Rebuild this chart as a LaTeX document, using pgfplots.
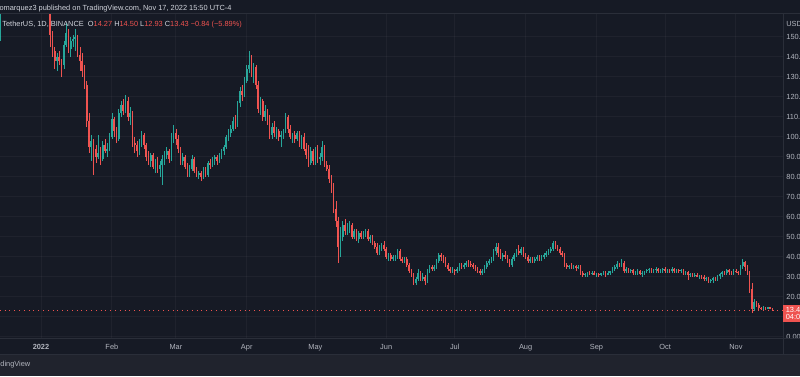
\documentclass[border=0pt]{standalone}
\usepackage{pgfplots}
\pgfplotsset{compat=1.18}
\usepackage{pgfplotstable}
\usepackage{fontspec}
\setmainfont{Liberation Sans}
\definecolor{bg}{HTML}{161A25}
\definecolor{strip}{HTML}{20232D}
\definecolor{sep}{HTML}{2A2E39}
\definecolor{txt}{HTML}{B2B5BE}
\definecolor{hdr}{HTML}{D1D4DC}
\definecolor{upc}{HTML}{26A69A}
\definecolor{dnc}{HTML}{EF5350}
\pgfplotstableread[row sep=\\]{
d o h l c\\
-18 150 163 148 162\\ -17 162 180 162 177\\ -16 177 181 168 172\\ -15 172 180 168 177\\ -14 177 184 172 181\\
-13 181 183 172 178\\ -12 178 182 172 179\\ -11 179 188 176 186\\ -10 186 189 180 183\\ -9 183 194 181 192\\
-8 192 196 186 191\\ -7 191 197 188 193\\ -6 193 199 190 196\\ -5 196 204 192 195\\ -4 195 197 176 179\\
-3 179 183 168 171\\ -2 171 180 168 176\\ -1 176 179 169 170\\
0 170 179 169 178\\ 1 178 180 172 176\\ 2 176 177 166 170\\ 3 170 172 163 167\\ 4 167 168 145 151\\
5 151 153 140 143\\ 6 143 145 134 138\\ 7 138 142 133 140\\ 8 140 143 136 138\\ 9 138 139 130 136\\
10 136 148 134 146\\ 11 146 157 145 152\\ 12 152 154 142 144\\ 13 144 150 140 148\\ 14 148 151 145 149\\
15 149 154 143 150\\ 16 150 151 140 141\\ 17 141 145 133 138\\ 18 138 142 130 133\\ 19 133 136 124 126\\
20 126 128 105 108\\ 21 108 112 92 95\\ 22 95 101 88 98\\ 23 98 99 81 94\\ 24 94 96 87 90\\
25 90 101 89 92\\ 26 92 95 86 89\\ 27 89 98 88 96\\ 28 96 99 92 93\\ 29 93 97 90 94\\
30 94 102 93 100\\ 31 100 112 99 109\\ 32 109 110 100 103\\ 33 103 105 97 99\\ 34 99 114 98 112\\
35 112 118 110 116\\ 36 116 119 111 113\\ 37 113 121 112 118\\ 38 118 120 108 110\\ 39 110 115 106 112\\
40 112 113 95 97\\ 41 97 100 92 96\\ 42 96 98 90 93\\ 43 93 99 91 97\\ 44 97 103 95 101\\
45 101 102 94 96\\ 46 96 97 88 90\\ 47 90 93 86 88\\ 48 88 92 85 91\\ 49 91 92 84 85\\
50 85 89 82 88\\ 51 88 90 82 84\\ 52 84 88 80 86\\ 53 86 91 76 89\\ 54 89 93 86 91\\
55 91 95 89 93\\ 56 93 94 87 89\\ 57 89 102 88 100\\ 58 100 106 97 102\\ 59 102 104 96 99\\
60 99 101 92 94\\ 61 94 95 86 88\\ 62 88 92 86 90\\ 63 90 91 84 85\\ 64 85 87 80 82\\
65 82 86 80 84\\ 66 84 91 83 89\\ 67 89 90 82 83\\ 68 83 85 80 81\\ 69 81 83 79 82\\
70 82 83 78 80\\ 71 80 85 79 84\\ 72 84 85 80 81\\ 73 81 88 80 87\\ 74 87 89 84 86\\
75 86 90 85 89\\ 76 89 91 86 90\\ 77 90 91 86 88\\ 78 88 92 87 91\\ 79 91 94 89 93\\
80 93 96 91 95\\ 81 95 101 94 100\\ 82 100 104 98 102\\ 83 102 106 100 104\\ 84 104 110 103 108\\
85 108 111 104 106\\ 86 106 118 105 117\\ 87 117 125 115 123\\ 88 123 126 118 121\\ 89 121 130 120 128\\
90 128 136 127 134\\ 91 134 143 132 136\\ 92 136 141 130 132\\ 93 132 137 127 135\\ 94 135 136 124 126\\
95 126 128 112 114\\ 96 114 120 111 118\\ 97 118 119 108 110\\ 98 110 116 108 113\\ 99 113 114 106 108\\
100 108 111 99 101\\ 101 101 107 99 105\\ 102 105 108 100 102\\ 103 102 105 99 103\\ 104 103 104 98 100\\
105 100 103 95 101\\ 106 101 104 99 103\\ 107 103 112 102 110\\ 108 110 111 102 104\\ 109 104 106 99 100\\
110 100 102 97 101\\ 111 101 103 97 99\\ 112 99 103 98 102\\ 113 102 103 95 96\\ 114 96 101 94 100\\
115 100 102 93 94\\ 116 94 97 89 91\\ 117 91 96 85 87\\ 118 87 95 86 93\\ 119 93 94 86 88\\
120 88 95 86 94\\ 121 94 96 87 89\\ 122 89 92 86 90\\ 123 90 98 88 95\\ 124 95 96 85 86\\
125 86 88 83 84\\ 126 84 86 77 79\\ 127 79 81 72 75\\ 128 75 77 62 64\\ 129 64 68 55 58\\
130 58 60 37 45\\ 131 45 55 40 50\\ 132 50 58 48 56\\ 133 56 59 51 53\\ 134 53 57 51 55\\
135 55 58 52 56\\ 136 56 57 49 50\\ 137 50 54 49 53\\ 138 53 54 48 49\\ 139 49 53 47 52\\
140 52 53 49 50\\ 141 50 53 49 52\\ 142 52 54 50 53\\ 143 53 54 48 49\\ 144 49 51 47 50\\
145 50 51 46 47\\ 146 47 48 44 45\\ 147 45 47 41 42\\ 148 42 46 41 45\\ 149 45 47 43 46\\
150 46 48 43 44\\ 151 44 45 39 40\\ 152 40 42 38 41\\ 153 41 42 38 39\\ 154 39 41 38 40\\
155 40 41 38 40\\ 156 40 44 39 43\\ 157 43 44 38 39\\ 158 39 40 37 38\\ 159 38 40 37 39\\
160 39 40 35 36\\ 161 36 37 32 33\\ 162 33 34 30 31\\ 163 31 32 26 27\\ 164 27 30 26 29\\
165 29 34 28 32\\ 166 32 33 28 29\\ 167 29 32 28 30\\ 168 30 31 26 28\\ 169 28 34 27 33\\
170 33 36 32 35\\ 171 35 36 33 34\\ 172 34 36 33 35\\ 173 35 39 34 38\\ 174 38 42 37 41\\
175 41 42 38 40\\ 176 40 41 37 38\\ 177 38 40 35 36\\ 178 36 37 33 34\\ 179 34 35 32 33\\
180 33 35 32 33.5\\ 181 33.5 34 31 33\\ 182 33 35 32 34\\ 183 34 37 33 36\\ 184 36 37 34 35\\
185 35 37 34 36\\ 186 36 38 35 37\\ 187 37 38.5 35 36.5\\ 188 36.5 38 35 36\\ 189 36 37 34 35\\
190 35 36 33 34\\ 191 34 35 32 33\\ 192 33 34 31 32\\ 193 32 34 31 33\\ 194 33 36 32 35\\
195 35 38 34 37\\ 196 37 39 36 38\\ 197 38 40 37 39\\ 198 39 44 38 43\\ 199 43 47 41 45\\
200 45 47 40 42\\ 201 42 44 39 40\\ 202 40 42 38 41\\ 203 41 43 39 40\\ 204 40 41 37 38\\
205 38 39 35 36\\ 206 36 40 35 39\\ 207 39 42 38 41\\ 208 41 44 40 43\\ 209 43 46 41 42\\
210 42 45 41 44\\ 211 44 45 40 41\\ 212 41 42 39 40\\ 213 40 41 37 38\\ 214 38 40 37 39\\
215 39 40 37 38\\ 216 38 40 37 39\\ 217 39 41 38 40\\ 218 40 41 38 39\\ 219 39 41 38 40\\
220 40 42 39 41\\ 221 41 43 40 42\\ 222 42 44 41 43\\ 223 43 45 42 44\\ 224 44 48 43 47\\
225 47 48 44 45\\ 226 45 46 43 44\\ 227 44 45 41 42\\ 228 42 43 40 41\\ 229 41 42 35 36\\
230 36 37 34 35\\ 231 35 36 34 35.5\\ 232 35.5 37 34 35\\ 233 35 36 34 35.5\\ 234 35.5 36 33 34.5\\
235 34.5 36 34 35\\ 236 35 36 31 32\\ 237 32 33 30 31\\ 238 31 32 30 31.5\\ 239 31.5 32.5 30 32\\
240 32 33 31 31.5\\ 241 31.5 33 31 32\\ 242 32 33 31 31\\ 243 31 32 30 31.5\\ 244 31.5 32 30 31\\
245 31 32 30.5 31.8\\ 246 31.8 33 31 32\\ 247 32 33 30 31\\ 248 31 33 31 32\\ 249 32 33 31 33\\
250 33 35 32 34\\ 251 34 36 33 35\\ 252 35 38 34 36.5\\ 253 36.5 37 35 36\\ 254 36 39 35 37\\
255 37 38 32 33\\ 256 33 35 32 34\\ 257 34 34.5 32 33\\ 258 33 34 32 33.5\\ 259 33.5 34 31 32\\
260 32 33 31 32.5\\ 261 32.5 34 31 33\\ 262 33 33.5 31 31.5\\ 263 31.5 33 30 32\\ 264 32 33 31 33\\
265 33 34 32 33.5\\ 266 33.5 34.5 32 34\\ 267 34 34.5 32 33\\ 268 33 34 32 33.5\\ 269 33.5 35 32 34\\
270 34 34.5 32 33\\ 271 33 34 32 33.5\\ 272 33.5 34.5 32 34\\ 273 34 35 32 33\\ 274 33 34 32 33.5\\
275 33.5 34 32 33\\ 276 33 35 32 34\\ 277 34 34.5 32 33\\ 278 33 34 32 33.5\\ 279 33.5 34 32 33\\
280 33 34 32 33.2\\ 281 33.2 34 31 32\\ 282 32 33 31 32.5\\ 283 32.5 33 28.5 31\\ 284 31 32 30 31.2\\
285 31.2 32 30 30.8\\ 286 30.8 32 30 31\\ 287 31 32 30 30\\ 288 30 31 29 30.3\\ 289 30.3 31 29 29.8\\
290 29.8 31 28 29\\ 291 29 30 28 29.2\\ 292 29.2 30 27 28\\ 293 28 29 27 28.5\\ 294 28.5 30 27 29.5\\
295 29.5 30 28 29\\ 296 29 31 28 30.5\\ 297 30.5 32 29 31.5\\ 298 31.5 33 30 32.5\\ 299 32.5 33 31 32\\
300 32 34 31 33.5\\ 301 33.5 34 31 32.5\\ 302 32.5 33 31 32\\ 303 32 34 31 33\\ 304 33 34 32 32.5\\
305 32.5 33 31 32\\ 306 32 36 31 35.5\\ 307 35.5 39 34 37.5\\ 308 37.5 38 33 35\\ 309 35 36 31 32\\
310 32 33 22 24\\ 311 24 27 12 14\\ 312 14 19 13 17.5\\ 313 17.5 18 15 16\\ 314 16 17 13.5 14.5\\
315 14.5 15 13.5 14\\ 316 14 15.3 13 14.6\\ 317 14.6 15 13.5 14.3\\ 318 14.3 15 14 14.6\\ 319 14.6 15 14 14.27\\
320 14.27 14.50 12.93 13.43\\
}\candles
\newcommand\fs{\fontsize{3.7}{4.4}\selectfont}
\begin{document}
\begin{tikzpicture}
\useasboundingbox (0,0) rectangle (400pt,188pt);
\clip (0,0) rectangle (400pt,188pt);
\fill[bg] (0,0) rectangle (400pt,188pt);
\fill[strip] (0,0) rectangle (400pt,11pt);
\begin{axis}[at={(0pt,19pt)}, anchor=south west, scale only axis,
  width=391.5pt, height=162pt,
  xmin=-17.935, xmax=324.58, ymin=-0.5, ymax=161.5,
  axis on top,
  axis line style={draw=none}, major tick length=0pt,
  grid=major, grid style={white, opacity=0.04, line width=0.5pt},
  xtick={0,31,59,90,120,151,181,212,243,273,304},
  xticklabels={\textbf{2022},Feb,Mar,Apr,May,Jun,Jul,Aug,Sep,Oct,Nov},
  ytick={0,10,...,150},
  yticklabels={0.00,,20.00,30.00,40.00,50.00,60.00,70.00,80.00,90.00,100.00,110.00,120.00,130.00,140.00,150.00},
  yticklabel pos=right,
  xticklabel style={font=\fs, text=txt, anchor=base, inner sep=0pt, yshift=-6pt},
  yticklabel style={font=\fs, text=txt, anchor=west, inner sep=0pt, xshift=1.5pt},
  clip=true]
% bodies
\addplot[ycomb, mark=none, forget plot, draw=upc, line width=0.8pt]
  table[x=d, y expr={(\thisrow{c}>=\thisrow{o}) ? (max(\thisrow{o},\thisrow{c})+0.2) : 0}] {\candles};
\addplot[ycomb, mark=none, forget plot, draw=dnc, line width=0.8pt]
  table[x=d, y expr={(\thisrow{c}<\thisrow{o}) ? (max(\thisrow{o},\thisrow{c})+0.2) : 0}] {\candles};
\addplot[ycomb, mark=none, forget plot, draw=bg, line width=0.8pt]
  table[x=d, y expr={min(\thisrow{o},\thisrow{c})-0.2}] {\candles};
% wicks
\addplot[ycomb, mark=none, forget plot, draw=upc, line width=0.35pt]
  table[x=d, y expr={(\thisrow{c}>=\thisrow{o}) ? (\thisrow{h}) : 0}] {\candles};
\addplot[ycomb, mark=none, forget plot, draw=dnc, line width=0.35pt]
  table[x=d, y expr={(\thisrow{c}<\thisrow{o}) ? (\thisrow{h}) : 0}] {\candles};
\addplot[ycomb, mark=none, forget plot, draw=bg, line width=0.35pt]
  table[x=d, y=l] {\candles};
\addplot[dnc, dotted, line width=0.4pt, forget plot] coordinates {(-18,13.43) (325,13.43)};
\end{axis}
\fill[bg] (391.6pt,11.2pt) rectangle (400pt,18.8pt);
\draw[sep, line width=0.5pt] (0,11pt) -- (400pt,11pt);
\draw[sep, line width=0.5pt] (0,19pt) -- (400pt,19pt);
\draw[sep, line width=0.5pt] (0,181pt) -- (400pt,181pt);
\draw[sep, line width=0.5pt] (391.5pt,11pt) -- (391.5pt,181pt);
\fill[dnc] (391.5pt,27pt) rectangle (400pt,35.5pt);
\node[anchor=west, inner sep=0pt, font=\fs, text=white] at (392.7pt,33pt) {13.43};
\node[anchor=west, inner sep=0pt, font=\fs, text=white] at (392.7pt,29.3pt) {04:09:16};
\node[anchor=west, inner sep=0pt, font=\fs, text=txt] at (393pt,176pt) {USDT};
\node[anchor=west, inner sep=0pt, font=\fs, text=hdr] at (-0.4pt,183.5pt) {omarquez3 published on TradingView.com, Nov 17, 2022 15:50 UTC-4};
\node[anchor=west, inner sep=0pt, font=\fs, text=hdr] at (1pt,175.5pt) {TetherUS, 1D, BINANCE\ \ O\textcolor{dnc}{14.27} H\textcolor{dnc}{14.50} L\textcolor{dnc}{12.93} C\textcolor{dnc}{13.43} \textcolor{dnc}{−0.84 (−5.89\%)}};
\node[anchor=west, inner sep=0pt, font=\fs, text=txt] at (0pt,5.5pt) {dingView};
\end{tikzpicture}
\end{document}
